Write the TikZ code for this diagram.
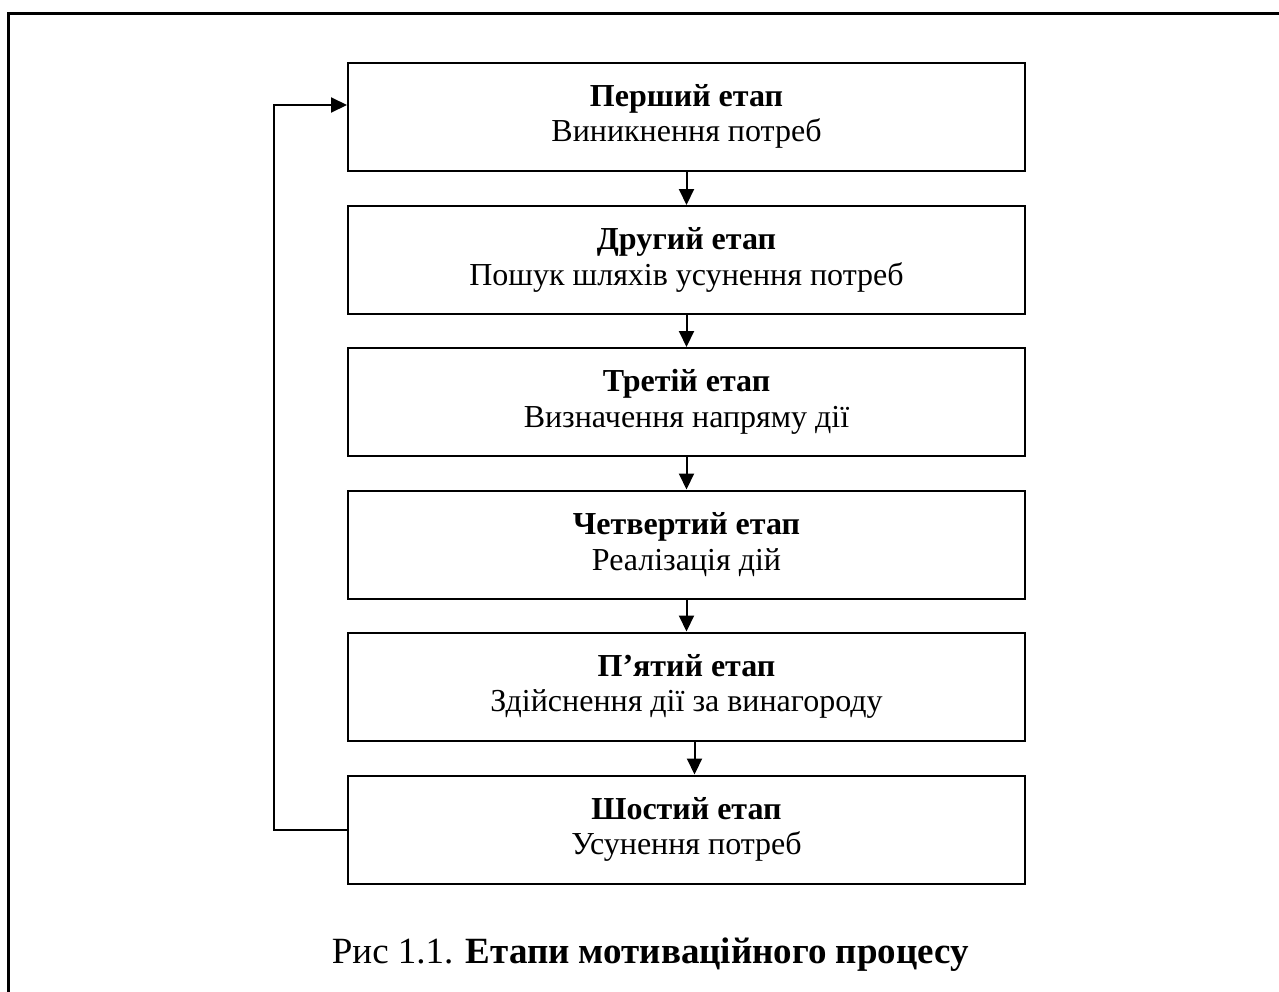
\documentclass[tikz,border=0pt]{standalone}
\usepackage{fontspec}
\setmainfont{Liberation Serif}
\usetikzlibrary{arrows.meta}
\tikzset{
  stagebox/.style={draw, line width=2pt, minimum width=677pt, minimum height=108pt,
    inner sep=0pt, align=center, font=\fontsize{32}{35.5}\selectfont},
  flow/.style={line width=2pt, -{Triangle[length=16pt,width=15pt]}},
  frameline/.style={line width=3pt}
}
\begin{document}
\begin{tikzpicture}[x=1pt,y=-1pt]
\useasboundingbox (0,0) rectangle (1279,991);
% outer frame (open to the right and bottom)
\coordinate (fr) at (1285,13);
\coordinate (fc) at (8,13);
\coordinate (fb) at (8,1000);
\draw[frameline] (fr) -- (fc) -- (fb);

% stages
\node[stagebox] (b1) at (686.5,116.5) {\textbf{Перший етап}\\Виникнення потреб};
\node[stagebox] (b2) at (686.5,260)   {\textbf{Другий етап}\\Пошук шляхів усунення потреб};
\node[stagebox] (b3) at (686.5,402)   {\textbf{Третій етап}\\Визначення напряму дії};
\node[stagebox] (b4) at (686.5,544.5) {\textbf{Четвертий етап}\\Реалізація дій};
\node[stagebox] (b5) at (686.5,686.5) {\textbf{П’ятий етап}\\Здійснення дії за винагороду};
\node[stagebox] (b6) at (686.5,829.5) {\textbf{Шостий етап}\\Усунення потреб};

% connectors
\draw[flow] (b1.south) -- (b2.north);
\draw[flow] (b2.south) -- (b3.north);
\draw[flow] (b3.south) -- (b4.north);
\draw[flow] (b4.south) -- (b5.north);
\draw[flow] ([xshift=8pt]b5.south) -- ([xshift=8pt]b6.north);
\draw[flow] (b6.west) -- ++(-73,0) |- ([yshift=11.5pt]b1.west);

% caption
\node[anchor=base, inner sep=0pt, font=\fontsize{37}{40}\selectfont] (cap) at (650.5,963)
  {Рис 1.1. \textbf{Етапи мотиваційного процесу}};
\end{tikzpicture}
\end{document}
